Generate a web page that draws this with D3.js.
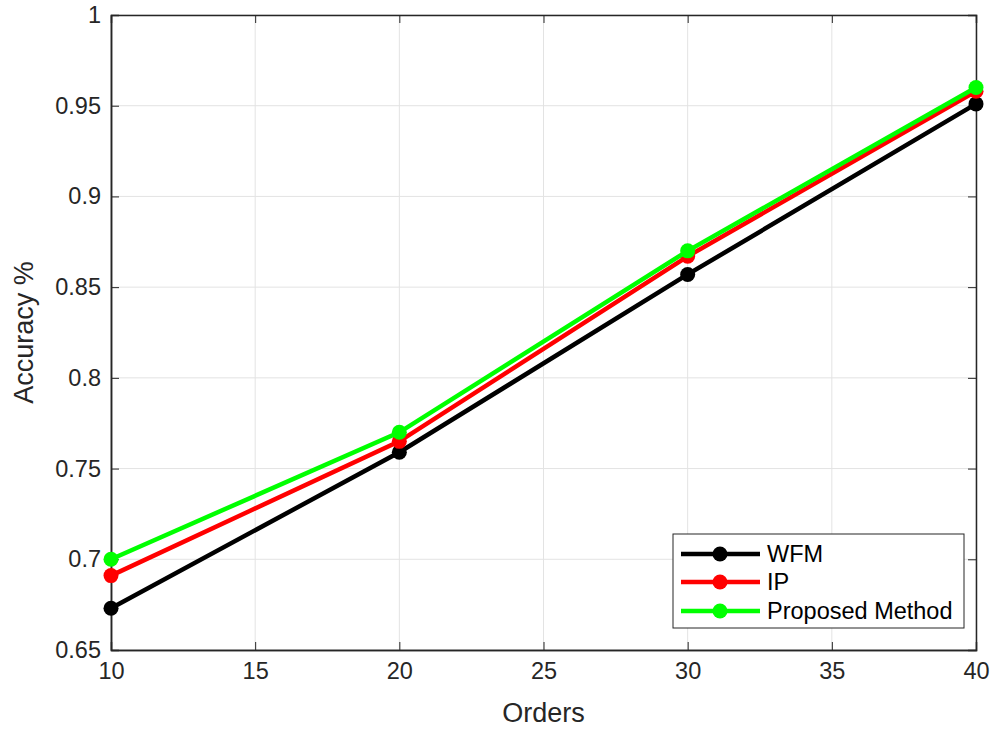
<!DOCTYPE html>
<html>
<head>
<meta charset="utf-8">
<script src="https://d3js.org/d3.v7.min.js"></script>
<style>
  body { margin: 0; background: #fff; }
  text { font-family: "Liberation Sans", Arial, sans-serif; }
</style>
</head>
<body>
<svg id="chart" width="993" height="731"></svg>
<script>
// data
var orders = [10, 20, 30, 40];
var wfm = [0.673, 0.759, 0.857, 0.951];
var ip = [0.691, 0.765, 0.867, 0.958];
var proposed = [0.700, 0.770, 0.870, 0.960];
var seriesNames = ["WFM", "IP", "Proposed Method"];
var seriesColors = ["#000000", "#ff0000", "#00ff00"];
var xTicks = [10, 15, 20, 25, 30, 35, 40];
var yTicks = [0.65, 0.7, 0.75, 0.8, 0.85, 0.9, 0.95, 1];

var svg = d3.select("#chart");
var pLeft = 111, pRight = 976, pTop = 15, pBottom = 650;

var x = d3.scaleLinear().domain([10, 40]).range([pLeft, pRight]);
var y = d3.scaleLinear().domain([0.65, 1]).range([pBottom, pTop]);

var g = svg.append("g");

// grid
g.selectAll(".gx").data(xTicks).enter().append("line")
  .attr("x1", d => x(d)).attr("x2", d => x(d))
  .attr("y1", pTop).attr("y2", pBottom)
  .attr("stroke", "#e3e3e3").attr("stroke-width", 1);
g.selectAll(".gy").data(yTicks).enter().append("line")
  .attr("x1", pLeft).attr("x2", pRight)
  .attr("y1", d => y(d)).attr("y2", d => y(d))
  .attr("stroke", "#e3e3e3").attr("stroke-width", 1);

function styleAxis(sel) {
  sel.selectAll("path").attr("stroke", "#262626").attr("stroke-width", 1.5);
  sel.selectAll("line").attr("stroke", "#262626");
  sel.selectAll("text").attr("fill", "#262626").style("font-size", "23.5px");
}

// tick labels
g.append("g").attr("transform", "translate(0," + pBottom + ")")
  .call(d3.axisBottom(x).tickValues(xTicks).tickSize(0).tickPadding(12).tickFormat(d3.format("d")))
  .call(styleAxis);
g.append("g").attr("transform", "translate(" + pLeft + ",0)")
  .call(d3.axisLeft(y).tickValues(yTicks).tickSize(0).tickPadding(10).tickFormat(d => String(d)))
  .call(styleAxis);
// box with small inward ticks
g.append("g").attr("transform", "translate(0," + pTop + ")")
  .call(d3.axisTop(x).tickValues(xTicks).tickSize(-8).tickFormat("")).call(styleAxis);
g.append("g").attr("transform", "translate(" + pRight + ",0)")
  .call(d3.axisRight(y).tickValues(yTicks).tickSize(-8).tickFormat("")).call(styleAxis);
g.append("g").attr("transform", "translate(0," + pBottom + ")")
  .call(d3.axisBottom(x).tickValues(xTicks).tickSize(-8).tickFormat("")).call(styleAxis);
g.append("g").attr("transform", "translate(" + pLeft + ",0)")
  .call(d3.axisLeft(y).tickValues(yTicks).tickSize(-8).tickFormat("")).call(styleAxis);

// axis labels
svg.append("text").attr("x", (pLeft + pRight) / 2).attr("y", 722)
  .attr("text-anchor", "middle").attr("fill", "#262626").style("font-size", "27px").text("Orders");
svg.append("text").attr("transform", "translate(33," + (pTop + pBottom) / 2 + ") rotate(-90)")
  .attr("text-anchor", "middle").attr("fill", "#262626").style("font-size", "27px").text("Accuracy %");

// lines
var allSeries = [wfm, ip, proposed];
var line = d3.line().x((d, i) => x(orders[i])).y(d => y(d));
allSeries.forEach(function (vals, k) {
  var sg = g.append("g");
  sg.append("path").datum(vals).attr("d", line)
    .attr("fill", "none").attr("stroke", seriesColors[k]).attr("stroke-width", 4.5);
  sg.selectAll("circle").data(vals).enter().append("circle")
    .attr("cx", (d, i) => x(orders[i])).attr("cy", d => y(d)).attr("r", 7.5)
    .attr("fill", seriesColors[k]);
});

// legend
var lg = svg.append("g");
lg.append("rect").attr("x", 673).attr("y", 534).attr("width", 291).attr("height", 94)
  .attr("fill", "#fff").attr("stroke", "#262626").attr("stroke-width", 1);
var rowY = [554, 582, 611];
seriesNames.forEach(function (name, k) {
  lg.append("line").attr("x1", 681).attr("x2", 760).attr("y1", rowY[k]).attr("y2", rowY[k])
    .attr("stroke", seriesColors[k]).attr("stroke-width", 4.5);
  lg.append("circle").attr("cx", 720).attr("cy", rowY[k]).attr("r", 7.5).attr("fill", seriesColors[k]);
  lg.append("text").attr("x", 767).attr("y", rowY[k] + 8).attr("fill", "#000")
    .style("font-size", "23.5px").text(name);
});
</script>
</body>
</html>
